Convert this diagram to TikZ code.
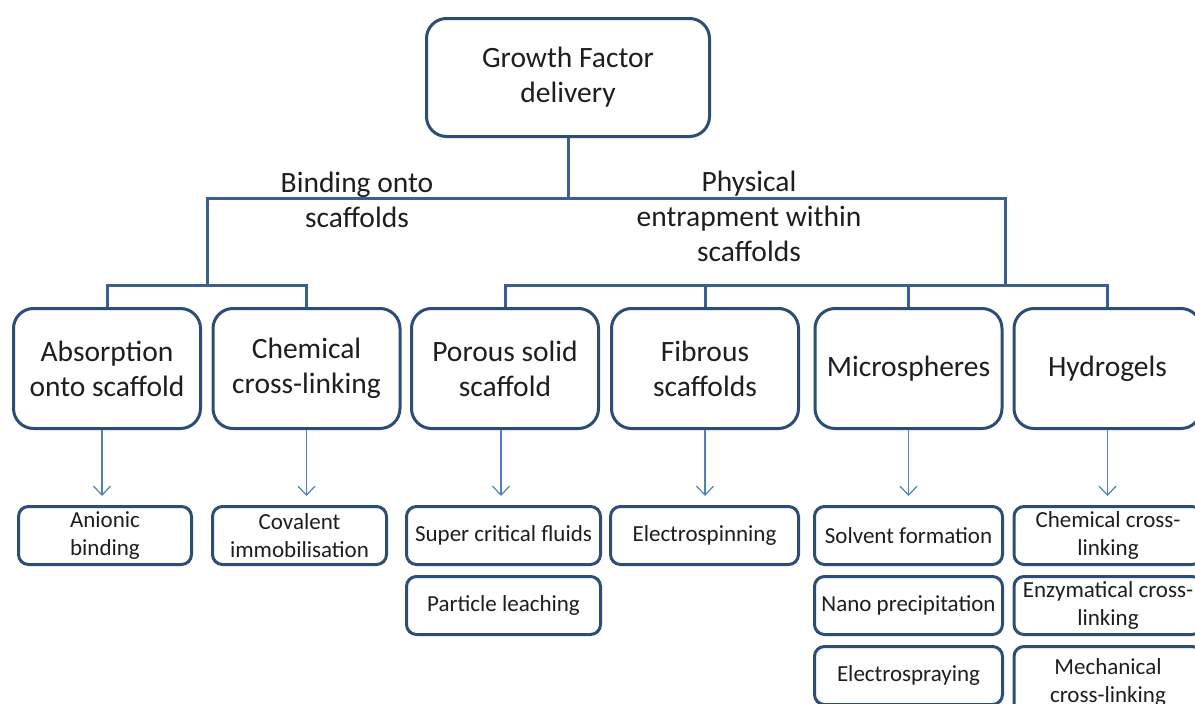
\documentclass[tikz,border=0pt]{standalone}
\usepackage{fontspec}
\setmainfont{Carlito}
\usepackage{xcolor}
\usetikzlibrary{arrows.meta,positioning}
\definecolor{cBorder}{HTML}{2C4D75}
\definecolor{cTree}{HTML}{3A6090}
\definecolor{cArrow}{HTML}{4F81BD}
\definecolor{cText}{HTML}{1E1E1E}

\begin{document}
\begin{tikzpicture}[
    x=1pt, y=-1pt,
    font=\fontsize{29.5}{35}\selectfont,
    box/.style={draw=cBorder, line width=3pt, fill=white, align=center,
                text=cText},
    big/.style={box, rounded corners=20pt, inner sep=3pt,
                minimum width=187pt, minimum height=120pt},
    small/.style={box, rounded corners=10pt, inner sep=1pt,
                  minimum width=188pt, minimum height=58pt,
                  font=\fontsize{23}{28}\selectfont},
    tree/.style={draw=cTree, line width=3pt},
    arr/.style={draw=cArrow, line width=1.2pt, shorten >=9pt,
                -{Straight Barb[length=9pt, width=17pt]}},
    lbl/.style={align=center, text=cText}
]
\useasboundingbox (0,0) rectangle (1195,704);

% --- root ---
\node[big, minimum width=283pt, minimum height=118pt] (gf) at (568,77.5)
  {Growth Factor\\ delivery};

% --- delivery methods ---
\node[big] (abs) at (107,368.5) {Absorption\\ onto scaffold};
\node[big] (chem) at (306.5,368.5) {Chemical\\ cross-linking};
\node[big] (por) at (505,368.5) {Porous solid\\ scaffold};
\node[big] (fib) at (705,368.5) {Fibrous\\ scaffolds};
\node[big] (mic) at (908.5,368.5) {Microspheres};
\node[big] (hyd) at (1107.5,368.5) {Hydrogels};

% --- techniques ---
\node[small, minimum width=173pt] (ani) at (105,535.5) {Anionic\\ binding};
\node[small, minimum width=174pt] (cov) at (299.5,535.5)
  {Covalent\\ immobilisation};
\node[small, minimum width=194pt] (sup) at (503.5,535.5)
  {Super critical fluids};
\node[small, minimum width=194pt, below=9pt of sup] (leach)
  {Particle leaching};
\node[small] (spin) at (704.5,535.5) {Electrospinning};
\node[small] (solv) at (908.5,535.5) {Solvent formation};
\node[small, below=9pt of solv] (nano) {Nano precipitation};
\node[small, below=9pt of nano] (spray) {Electrospraying};
\node[small] (hchem) at (1108,535.5) {Chemical cross-\\ linking};
\node[small, below=9pt of hchem] (henz) {Enzymatical cross-\\ linking};
\node[small, minimum height=72pt, below=9pt of henz] (hmech)
  {Mechanical\\ cross-linking};

% --- tree ---
\coordinate (bindL) at (207,198);
\coordinate (physR) at (1005,198);
\coordinate (bindJ) at (207,285);
\coordinate (physJ) at (1005,285);
\draw[tree] (gf.south) -- (gf.south |- bindL);
\draw[tree] (bindJ) -- (bindL) -- (physR) -- (physJ);
\draw[tree] (abs.north) |- (bindJ) -| (chem.north);
\draw[tree] (por.north) |- (physJ) -| (hyd.north);
\draw[tree] (fib.north) -- (fib.north |- physJ);
\draw[tree] (mic.north) -- (mic.north |- physJ);

% branch labels
\node[lbl] (bind) at (357,200) {Binding onto\\ scaffolds};
\node[lbl] (phys) at (749,216) {Physical\\ entrapment within\\ scaffolds};

% --- arrows ---
\draw[arr] ([xshift=-5pt]abs.south) -- ([xshift=-5pt]abs.south |- ani.north);
\draw[arr] (chem.south) -- (chem.south |- cov.north);
\draw[arr] ([xshift=-4pt]por.south) -- ([xshift=-4pt]por.south |- sup.north);
\draw[arr] (fib.south) -- (fib.south |- spin.north);
\draw[arr] (mic.south) -- (mic.south |- solv.north);
\draw[arr] (hyd.south) -- (hyd.south |- hchem.north);

\end{tikzpicture}
\end{document}
